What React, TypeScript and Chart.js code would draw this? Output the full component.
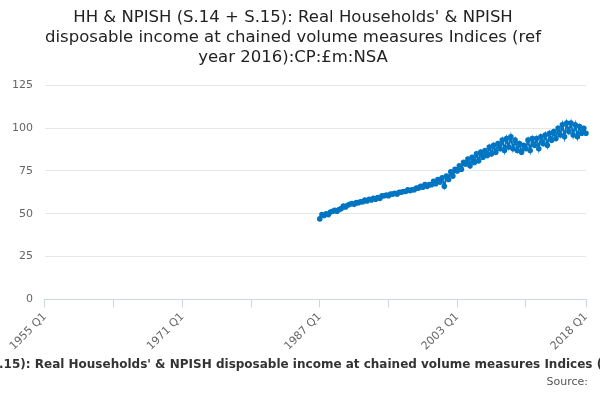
import React, { useEffect, useRef } from "react";
import { Chart, registerables } from "chart.js";
Chart.register(...registerables);

const startYear = 1955;
const endYear = 2018;
const dataStart = "1987 Q1";
const values: number[] = [
  47, 49.5, 49, 50,
  49.5, 51, 51.5, 52,
  51.5, 52.5, 53, 54.5,
  54, 55, 55.5, 56,
  55.5, 56.5, 56.5, 57,
  57, 58, 57.5, 58.5,
  58, 59, 58.5, 59.5,
  59, 60.5, 60.5, 61,
  60.5, 61.5, 61.5, 62,
  61.5, 62.5, 62.5, 63,
  63, 64, 63.5, 64,
  64, 65, 65, 66,
  65.5, 67, 66, 67,
  67, 69, 67.5, 70,
  68.5, 71, 66, 72,
  70, 74.5, 72, 76,
  75, 78, 76, 80,
  79, 82, 78, 83,
  80, 85, 81, 86,
  83, 87, 84, 89,
  85, 90, 86, 91,
  88, 93, 87, 94,
  89, 95, 88, 93,
  87, 91, 86, 90,
  88, 93, 87, 94,
  90, 94, 88, 95,
  91, 96, 90, 97,
  93, 98, 94, 100,
  96, 102, 95, 103,
  98, 103, 96, 102,
  95, 101, 97, 100,
  97,
];
const yTicks = [0, 25, 50, 75, 100, 125];
const titleLines = [
  "HH & NPISH (S.14 + S.15): Real Households' & NPISH",
  "disposable income at chained volume measures Indices (ref",
  "year 2016):CP:£m:NSA",
];
const axisTitle =
  "HH & NPISH (S.14 + S.15): Real Households' & NPISH disposable income at chained volume measures Indices (ref year 2016):CP:£m:NSA";
const sourceText = "Source:";

const labels: string[] = [];
for (let y = startYear; y <= endYear; y++) {
  for (let q = 1; q <= 4; q++) {
    if (y === endYear && q > 1) break;
    labels.push(`${y} Q${q}`);
  }
}
const offset = labels.indexOf(dataStart);
const series: (number | null)[] = labels.map((_, i) =>
  i >= offset && i - offset < values.length ? values[i - offset] : null
);

const font = "'DejaVu Sans', sans-serif";

const footerPlugin = {
  id: "footerText",
  afterDraw(chart: any) {
    const ctx = chart.ctx;
    ctx.save();
    ctx.textBaseline = "middle";
    ctx.font = `bold 12px ${font}`;
    ctx.fillStyle = "#333";
    ctx.textAlign = "center";
    ctx.fillText(axisTitle, (chart.chartArea.left + chart.chartArea.right) / 2, 365);
    ctx.font = `11px ${font}`;
    ctx.fillStyle = "#555";
    ctx.textAlign = "right";
    ctx.fillText(sourceText, 588, 382);
    ctx.restore();
  },
};

export default function App() {
  const ref = useRef<HTMLCanvasElement>(null);
  useEffect(() => {
    document.body.style.margin = "0";
    const last = labels.length - 1;
    const chart = new Chart(ref.current!, {
      type: "line",
      data: {
        labels,
        datasets: [
          {
            data: series,
            borderColor: "#0075c2",
            backgroundColor: "#0075c2",
            borderWidth: 2,
            pointRadius: 1.8,
            pointHoverRadius: 2,
            tension: 0,
          },
        ],
      },
      plugins: [footerPlugin],
      options: {
        animation: false,
        responsive: false,
        layout: { padding: { left: 0, right: 14, top: 0, bottom: 44 } },
        plugins: {
          legend: { display: false },
          tooltip: { enabled: false },
          title: {
            display: true,
            text: titleLines,
            color: "#222",
            font: { family: font, size: 16.5, weight: "normal" },
            padding: { top: 8, bottom: 18 },
            lineHeight: 1.35,
          },
        },
        scales: {
          x: {
            grid: {
              drawOnChartArea: false,
              tickLength: 8,
              color: (ctx: any) =>
                ctx.index % 32 === 0 || ctx.index === last ? "#ccd6eb" : "rgba(0,0,0,0)",
            },
            border: { color: "#ccd6eb" },
            ticks: {
              autoSkip: false,
              maxRotation: 45,
              minRotation: 45,
              color: "#666",
              font: { family: font, size: 11 },
              callback: (_v: any, i: number) =>
                i % 64 === 0 || i === last ? labels[i] : "",
            },
          },
          y: {
            min: 0,
            max: 125,
            afterBuildTicks: (s: any) => {
              s.ticks = yTicks.map((v) => ({ value: v }));
            },
            grid: { color: "#e6e6e6", drawTicks: false },
            border: { display: false },
            ticks: {
              color: "#666",
              padding: 12,
              font: { family: font, size: 11 },
            },
          },
        },
      },
    } as any);
    return () => chart.destroy();
  }, []);
  return <canvas ref={ref} width={600} height={400} />;
}
